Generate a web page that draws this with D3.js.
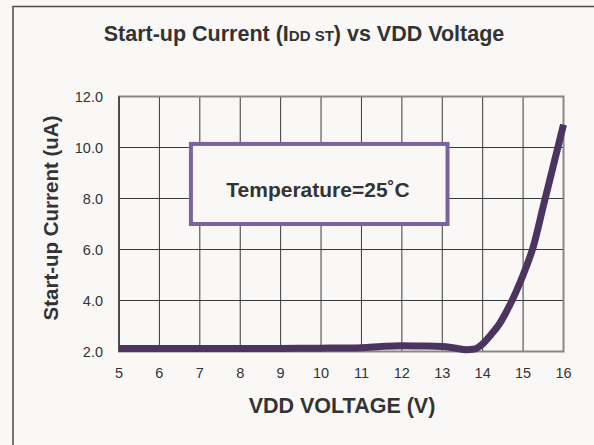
<!DOCTYPE html>
<html>
<head>
<meta charset="utf-8">
<script src="https://cdn.jsdelivr.net/npm/d3@7"></script>
<style>
  html, body { margin: 0; padding: 0; background: #f9f8f7; }
  svg { display: block; font-family: "Liberation Sans", Arial, sans-serif; }
</style>
</head>
<body>
<div id="chart"></div>
<script>
// VDD voltage (V) and start-up current (uA)
const voltage = [5, 6, 7, 8, 9, 10, 11, 11.5, 12, 12.5, 13, 13.3, 13.6, 13.8, 14, 14.2, 14.4, 14.6, 14.8, 15, 15.25, 15.5, 15.75, 16];
const current = [2.12, 2.12, 2.12, 2.12, 2.12, 2.13, 2.15, 2.2, 2.23, 2.22, 2.2, 2.14, 2.07, 2.1, 2.3, 2.65, 3.05, 3.6, 4.25, 5.0, 6.1, 7.7, 9.3, 10.9];
const xTicks = [5, 6, 7, 8, 9, 10, 11, 12, 13, 14, 15, 16];
const yTicks = [2, 4, 6, 8, 10, 12];
// annotation box corners in data units
const noteBox = { x0: 6.78, x1: 13.13, y0: 7.0, y1: 10.14 };

const width = 594;
const height = 445;
const margin = { top: 96.5, right: 30.5, bottom: 93.5, left: 119 };

const svg = d3.select("#chart")
    .append("svg")
    .attr("width", width)
    .attr("height", height);

// outer frame
svg.append("path")
    .attr("d", `M13,${height} V6.5 H${width}`)
    .attr("fill", "none")
    .attr("stroke", "#4a4a4a")
    .attr("stroke-width", 1.5);

const x = d3.scaleLinear()
    .domain([5, 16])
    .range([margin.left, width - margin.right]);

const y = d3.scaleLinear()
    .domain([2, 12])
    .range([height - margin.bottom, margin.top]);

// grid
svg.append("g")
    .selectAll("line")
    .data(xTicks.slice(1, -1))
    .join("line")
    .attr("x1", d => x(d)).attr("x2", d => x(d))
    .attr("y1", y(12)).attr("y2", y(2))
    .attr("stroke", "#3a3a3a")
    .attr("stroke-width", 1);

svg.append("g")
    .selectAll("line")
    .data(yTicks.slice(1, -1))
    .join("line")
    .attr("x1", x(5)).attr("x2", x(16))
    .attr("y1", d => y(d)).attr("y2", d => y(d))
    .attr("stroke", "#3a3a3a")
    .attr("stroke-width", 1);

// plot frame
svg.append("rect")
    .attr("x", x(5))
    .attr("y", y(12))
    .attr("width", x(16) - x(5))
    .attr("height", y(2) - y(12))
    .attr("fill", "none")
    .attr("stroke", "#8a8680")
    .attr("stroke-width", 2);

svg.append("line")
    .attr("x1", x(5)).attr("x2", x(5))
    .attr("y1", y(12)).attr("y2", y(2))
    .attr("stroke", "#3a3a3a")
    .attr("stroke-width", 1.5);

// tick labels
svg.append("g")
    .selectAll("text")
    .data(yTicks)
    .join("text")
    .attr("x", 103)
    .attr("y", d => y(d) + 5)
    .attr("text-anchor", "end")
    .attr("font-size", 14.5)
    .attr("fill", "#333")
    .text(d => d.toFixed(1));

svg.append("g")
    .selectAll("text")
    .data(xTicks)
    .join("text")
    .attr("x", d => x(d))
    .attr("y", 378)
    .attr("text-anchor", "middle")
    .attr("font-size", 14.5)
    .attr("fill", "#333")
    .text(d => d);

// annotation box
svg.append("rect")
    .attr("x", x(noteBox.x0))
    .attr("y", y(noteBox.y1))
    .attr("width", x(noteBox.x1) - x(noteBox.x0))
    .attr("height", y(noteBox.y0) - y(noteBox.y1))
    .attr("fill", "#f9f8f7")
    .attr("stroke", "#7a64a0")
    .attr("stroke-width", 4);

svg.append("text")
    .attr("x", 318)
    .attr("y", 197)
    .attr("text-anchor", "middle")
    .attr("font-size", 21)
    .attr("font-weight", "bold")
    .attr("fill", "#333")
    .text("Temperature=25˚C");

// curve
const line = d3.line()
    .x((d, i) => x(voltage[i]))
    .y(d => y(d))
    .curve(d3.curveMonotoneX);

svg.append("path")
    .datum(current)
    .attr("d", line)
    .attr("fill", "none")
    .attr("stroke", "#4b3560")
    .attr("stroke-width", 7)
    .attr("stroke-linecap", "butt");

// title
const title = svg.append("text")
    .attr("x", 304)
    .attr("y", 41)
    .attr("text-anchor", "middle")
    .attr("font-size", 21.5)
    .attr("font-weight", "bold")
    .attr("fill", "#333");
title.append("tspan").text("Start-up Current (I");
title.append("tspan").attr("font-size", 15).text("DD ST");
title.append("tspan").text(") vs VDD Voltage");

// axis titles
svg.append("text")
    .attr("x", 342)
    .attr("y", 413)
    .attr("text-anchor", "middle")
    .attr("font-size", 21.5)
    .attr("font-weight", "bold")
    .attr("fill", "#333")
    .text("VDD VOLTAGE (V)");

svg.append("text")
    .attr("transform", "translate(58,218) rotate(-90)")
    .attr("text-anchor", "middle")
    .attr("font-size", 20.5)
    .attr("font-weight", "bold")
    .attr("fill", "#333")
    .text("Start-up Current (uA)");
</script>
</body>
</html>
